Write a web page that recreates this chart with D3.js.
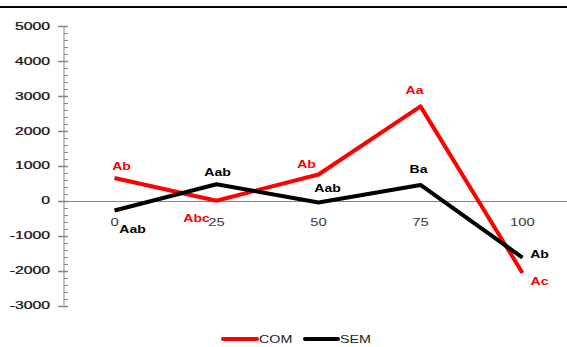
<!DOCTYPE html>
<html>
<head>
<meta charset="utf-8">
<script src="https://cdn.jsdelivr.net/npm/d3@7/dist/d3.min.js"></script>
<style>
  html, body { margin: 0; padding: 0; background: #fff; }
  svg { display: block; }
</style>
</head>
<body>
<svg id="chart" width="567" height="347"></svg>
<script>
// Categories (x axis) and series values
const categories = ["0", "25", "50", "75", "100"];
const comValues = [650, 0, 750, 2700, -2070];
const semValues = [-280, 470, -50, 450, -1630];
const comLabels = ["Ab", "Abc", "Ab", "Aa", "Ac"];
const semLabels = ["Aab", "Aab", "Aab", "Ba", "Ab"];
const yTicks = [5000, 4000, 3000, 2000, 1000, 0, -1000, -2000, -3000];
const seriesNames = ["COM", "SEM"];

// label placement offsets (dx, dy) from each point
const comOffsets = [[7, -8], [-20, 21], [-12, -6.5], [-6, -12], [17, 12]];
const semOffsets = [[18, 22.5], [1, -8], [9, -10], [-2, -12], [17, 0]];

const svg = d3.select("#chart");
const W = 567, H = 347;

const x = d3.scalePoint().domain(categories).range([63.5, 573.5]).padding(0.5);
const y = d3.scaleLinear().domain([-3000, 5000]).range([305.5, 26]);

// top border rule
svg.append("line")
  .attr("x1", 0).attr("x2", W).attr("y1", 7).attr("y2", 7)
  .attr("stroke", "#000").attr("stroke-width", 2);

const axisColor = "#868686";
const axisX = 64;

// y axis: main line, major ticks outside, minor ticks inside
svg.append("line")
  .attr("x1", axisX).attr("x2", axisX)
  .attr("y1", y(5000)).attr("y2", y(-3000))
  .attr("stroke", axisColor).attr("stroke-width", 1);

const minor = d3.range(-3000, 5001, 200).filter(v => v % 1000 !== 0);
svg.append("g").selectAll("line").data(minor).join("line")
  .attr("x1", axisX).attr("x2", axisX + 4)
  .attr("y1", d => Math.round(y(d)) + 0.5).attr("y2", d => Math.round(y(d)) + 0.5)
  .attr("stroke", axisColor).attr("stroke-width", 1);

svg.append("g").selectAll("line").data(yTicks).join("line")
  .attr("x1", axisX - 6).attr("x2", axisX + 4)
  .attr("y1", d => Math.round(y(d)) + 0.5).attr("y2", d => Math.round(y(d)) + 0.5)
  .attr("stroke", axisColor).attr("stroke-width", 1.5);

// y tick labels (stretched horizontally)
svg.append("g").selectAll("text").data(yTicks).join("text")
  .attr("transform", d => `translate(50,${y(d) + 3.7}) scale(1.5,1)`)
  .attr("text-anchor", "end")
  .attr("font-family", "Liberation Sans, Arial, sans-serif")
  .attr("font-size", 10.5)
  .attr("fill", "#111")
  .attr("stroke", "#111").attr("stroke-width", 0.25)
  .text(d => d);

// x axis at zero
svg.append("line")
  .attr("x1", axisX).attr("x2", W)
  .attr("y1", Math.round(y(0)) + 0.5).attr("y2", Math.round(y(0)) + 0.5)
  .attr("stroke", axisColor).attr("stroke-width", 1);

// category labels
svg.append("g").selectAll("text").data(categories).join("text")
  .attr("transform", d => `translate(${x(d)},226) scale(1.35,1)`)
  .attr("text-anchor", "middle")
  .attr("font-family", "Liberation Sans, Arial, sans-serif")
  .attr("font-size", 11)
  .attr("fill", "#3a3a3a")
  .text(d => d);

const series = [
  { name: seriesNames[0], values: comValues, labels: comLabels, offsets: comOffsets, color: "#ff0000" },
  { name: seriesNames[1], values: semValues, labels: semLabels, offsets: semOffsets, color: "#000000" }
];

const line = d3.line()
  .x((d, i) => x(categories[i]))
  .y(d => y(d));

series.forEach(s => {
  svg.append("path")
    .datum(s.values)
    .attr("d", line)
    .attr("fill", "none")
    .attr("stroke", s.color)
    .attr("stroke-width", 4)
    .attr("stroke-linejoin", "round");
});

// data labels
series.forEach(s => {
  svg.append("g").selectAll("text").data(s.values).join("text")
    .attr("transform", (d, i) =>
      `translate(${x(categories[i]) + s.offsets[i][0]},${y(d) + s.offsets[i][1]}) scale(1.22,1)`)
    .attr("text-anchor", "middle")
    .attr("font-family", "Liberation Sans, Arial, sans-serif")
    .attr("font-weight", "bold")
    .attr("font-size", 11.5)
    .attr("fill", s.color)
    .text((d, i) => s.labels[i]);
});

// legend
const legendItems = [
  { name: seriesNames[0], color: "#ff0000", x1: 223, x2: 257 },
  { name: seriesNames[1], color: "#000000", x1: 305, x2: 338 }
];
const lg = svg.append("g");
legendItems.forEach(it => {
  lg.append("line")
    .attr("x1", it.x1).attr("x2", it.x2).attr("y1", 339).attr("y2", 339)
    .attr("stroke", it.color).attr("stroke-width", 4).attr("stroke-linecap", "round");
  lg.append("text")
    .attr("transform", `translate(${it.x2 + 2},343) scale(1.3,1)`)
    .attr("font-family", "Liberation Sans, Arial, sans-serif")
    .attr("font-size", 11)
    .attr("fill", "#222")
    .text(it.name);
});
</script>
</body>
</html>
